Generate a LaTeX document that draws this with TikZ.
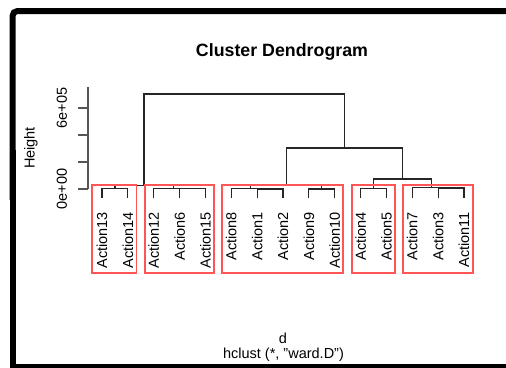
\documentclass[tikz,border=0pt]{standalone}
\usepackage{fontspec}
\setmainfont{Liberation Sans}
\definecolor{boxred}{RGB}{255,85,85}
\definecolor{axisgray}{RGB}{85,85,85}
\begin{document}
\begin{tikzpicture}[x=1pt,y=-1pt,
  branch/.style={draw=black!85, line width=1.2pt},
  groupbox/.style={draw=boxred, line width=1.5pt},
  axisline/.style={draw=axisgray, line width=1.3pt},
  frameline/.style={draw=black, line width=6pt},
  labelfont/.style={font=\fontsize{14.5}{17}\selectfont},
  leaflabel/.style={labelfont, rotate=90, anchor=east, inner sep=0pt},
  ticklabel/.style={labelfont, rotate=90, inner sep=0pt}]
\useasboundingbox (0,0) rectangle (506,367);

% outer frame
\begin{scope}
  \clip (0,0) rectangle (506,367);
  \draw[frameline, rounded corners=5pt] (12.5,200) -- (12.5,11) -- (530,11);
  \draw[frameline] (12.5,150) -- (12.5,366.5) -- (530,366.5);
\end{scope}

% title and axis captions
\node[font=\bfseries\fontsize{17.8}{20}\selectfont] (title) at (282,52) {Cluster Dendrogram};
\node[labelfont] (xlab) at (283,338) {d};
\node[labelfont] (sub) at (283.5,355) {hclust (*, "ward.D")};
\node[ticklabel] (ylab) at (31,148) {Height};

% y axis
\coordinate (axtop) at (88,87);
\coordinate (axbot) at (88,189);
\draw[axisline] (axtop) -- (axbot);
\foreach \ty/\tn in {108/a,135/b,162/c,189/d} {
  \coordinate (tk\tn) at (78,\ty);
  \coordinate (tb\tn) at (88,\ty);
  \draw[axisline] (tk\tn) -- (tb\tn);
}
\node[ticklabel] (y6) at (62,108) {6e+05};
\node[ticklabel] (y0) at (62,189) {0e+00};

% leaves
\foreach \n [count=\i from 0] in {13,14,12,6,15,8,1,2,9,10,4,5,7,3,11} {
  \coordinate (t\n) at ({102+25.857*\i},198);
  \node[leaflabel] (lab\n) at ({102+25.857*\i},212) {Action\n};
}

% merge points
\coordinate (m1314)  at (114.93,188.3);
\coordinate (m615)   at (192.5,188.6);
\coordinate (m12615) at (173.1,188.2);
\coordinate (mA)     at (144.0,185.6);
\coordinate (m12)    at (270.07,189);
\coordinate (m812)   at (250.68,188.7);
\coordinate (m910)   at (321.79,189);
\coordinate (mB)     at (286.2,185.5);
\coordinate (m45)    at (373.5,188.5);
\coordinate (m311)   at (451.07,188);
\coordinate (m7311)  at (431.68,187.3);
\coordinate (mC)     at (402.59,179);
\coordinate (mD)     at (344.4,148);
\coordinate (mT)     at (244.2,94);

% dendrogram branches
\draw[branch] (t13) |- (m1314) -| (t14);
\draw[branch] (t6) |- (m615) -| (t15);
\draw[branch] (t12) |- (m12615) -| (m615);
\draw[branch] (m1314) |- (mA) -| (m12615);
\draw[branch] (t1) |- (m12) -| (t2);
\draw[branch] (t8) |- (m812) -| (m12);
\draw[branch] (t9) |- (m910) -| (t10);
\draw[branch] (m812) |- (mB) -| (m910);
\draw[branch] (t4) |- (m45) -| (t5);
\draw[branch] (t3) |- (m311) -| (t11);
\draw[branch] (t7) |- (m7311) -| (m311);
\draw[branch] (m45) |- (mC) -| (m7311);
\draw[branch] (mB) |- (mD) -| (mC);
\draw[branch] (mA) |- (mT) -| (mD);

% cluster boxes
\draw[groupbox] (92,185) rectangle (136.5,273);
\draw[groupbox] (145,185) rectangle (214,273);
\draw[groupbox] (222,185) rectangle (343,273);
\draw[groupbox] (352,185) rectangle (395,273);
\draw[groupbox] (403,185) rectangle (473,273);
\end{tikzpicture}
\end{document}
